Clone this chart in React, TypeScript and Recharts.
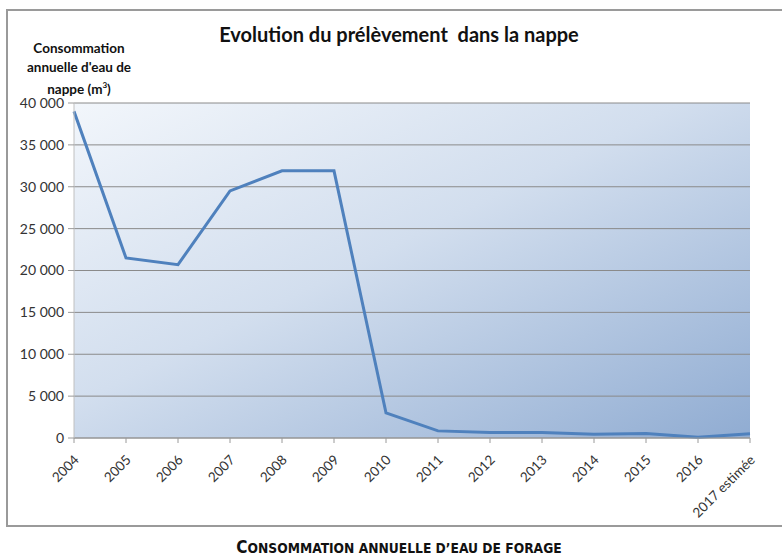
import React from 'react';
import { LineChart, Line, XAxis, YAxis, CartesianGrid } from 'recharts';

const years = ['2004', '2005', '2006', '2007', '2008', '2009', '2010', '2011', '2012', '2013', '2014', '2015', '2016', '2017 estimée'];
const consumption = [39000, 21500, 20700, 29500, 31900, 31900, 3000, 850, 650, 650, 450, 550, 100, 500];
const yTicks = [0, 5000, 10000, 15000, 20000, 25000, 30000, 35000, 40000];

const data = years.map((y, i) => ({ year: y, value: consumption[i] }));

const fmt = (v: number) => String(v).replace(/\B(?=(\d{3})+(?!\d))/g, ' ');

const XTick = (props: any) => {
  const { x, y, payload } = props;
  return (
    <g transform={`translate(${x + 3},${y + 13})`}>
      <text
        x={0}
        y={0}
        dy={4}
        textAnchor="end"
        transform="rotate(-45)"
        fontFamily="Lato, 'Open Sans', sans-serif"
        fontSize={13.5}
        fill="#333"
      >
        {payload.value}
      </text>
    </g>
  );
};

const big = { fontSize: 17 };

export default function App() {
  return (
    <div style={{ position: 'fixed', left: 0, top: 0, width: 782, height: 556, overflow: 'hidden', background: '#fff' }}>
      <div
        style={{
          position: 'absolute',
          left: 6,
          top: 9,
          width: 800,
          height: 518,
          border: '2px solid #9a9a9a',
          boxSizing: 'border-box',
        }}
      />
      <div style={{ position: 'absolute', left: 0, top: 0 }}>
        <LineChart width={782} height={556} data={data} margin={{ top: 103, right: 32, left: 0, bottom: 0 }}>
          <defs>
            <linearGradient id="bgGrad" x1="0" y1="0" x2="1" y2="1">
              <stop offset="0%" stopColor="#f2f6fb" />
              <stop offset="45%" stopColor="#d2deee" />
              <stop offset="100%" stopColor="#90acd2" />
            </linearGradient>
          </defs>
          <CartesianGrid vertical={false} stroke="#8a8a8a" fill="url(#bgGrad)" fillOpacity={1} />
          <XAxis
            dataKey="year"
            interval={0}
            height={118}
            tick={<XTick />}
            tickLine={{ stroke: '#9a9a9a' }}
            axisLine={{ stroke: '#9a9a9a' }}
            tickSize={5}
            padding={{ left: 0, right: 0 }}
          />
          <YAxis
            width={74}
            domain={[0, 40000]}
            ticks={yTicks}
            tickFormatter={fmt}
            tick={{ fontFamily: "Lato, 'Open Sans', sans-serif", fontSize: 14, fill: '#333' }}
            tickLine={{ stroke: '#9a9a9a' }}
            axisLine={{ stroke: '#c0c0c0' }}
            tickSize={6}
            tickMargin={4}
          />
          <Line
            type="linear"
            dataKey="value"
            stroke="#4f81bd"
            strokeWidth={3}
            dot={false}
            isAnimationActive={false}
          />
        </LineChart>
      </div>
      <div
        style={{
          position: 'absolute',
          left: 0,
          width: 798,
          top: 21,
          textAlign: 'center',
          fontFamily: "Lato, 'Open Sans', sans-serif",
          fontWeight: 700,
          fontSize: 20,
          lineHeight: '26px',
          color: '#111',
          whiteSpace: 'pre',
        }}
      >
        {'Evolution du prélèvement  dans la nappe'}
      </div>
      <div
        style={{
          position: 'absolute',
          left: 9,
          width: 140,
          top: 39,
          textAlign: 'center',
          fontFamily: "Lato, 'Open Sans', sans-serif",
          fontWeight: 700,
          fontSize: 13.5,
          lineHeight: '18.5px',
          color: '#111',
        }}
      >
        <div>Consommation</div>
        <div>annuelle d'eau de</div>
        <div>
          nappe (m<sup style={{ fontSize: 8 }}>3</sup>)
        </div>
      </div>
      <div
        style={{
          position: 'absolute',
          left: 0,
          width: 798,
          top: 538,
          textAlign: 'center',
          fontFamily: "'Liberation Sans Narrow', 'DejaVu Sans Condensed', 'Liberation Sans', sans-serif",
          fontWeight: 700,
          fontSize: 13.7,
          lineHeight: '18px',
          color: '#111',
          whiteSpace: 'pre',
        }}
      >
        <span style={big}>C</span>ONSOMMATION ANNUELLE D’EAU DE FORAGE
      </div>
    </div>
  );
}
